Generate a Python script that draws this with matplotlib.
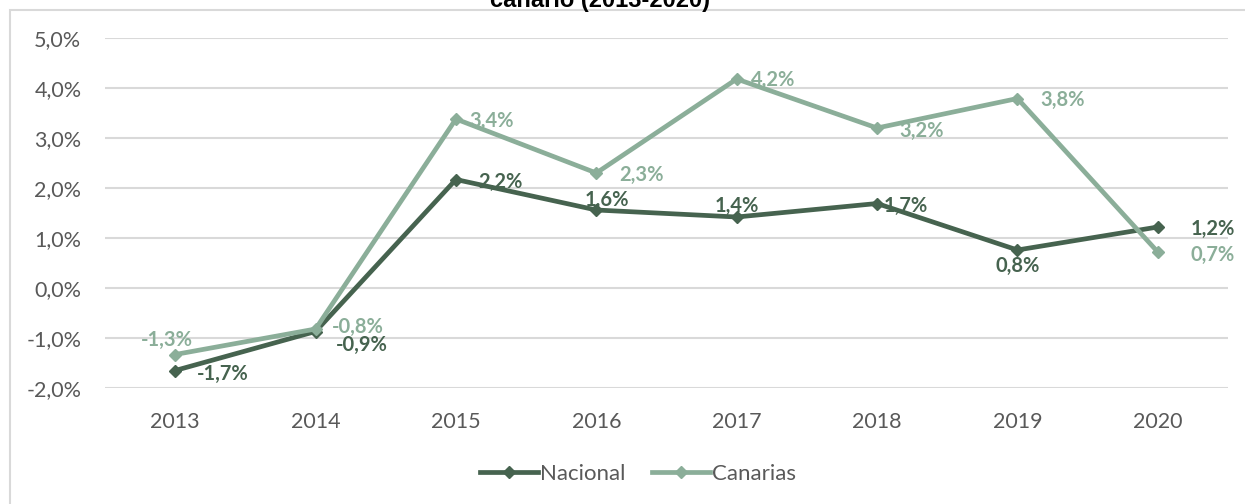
import numpy as np
import matplotlib.pyplot as plt
from matplotlib.patches import Rectangle
from matplotlib import rcParams

years = ['2013', '2014', '2015', '2016', '2017', '2018', '2019', '2020']
nacional = [-1.65, -0.87, 2.17, 1.56, 1.42, 1.69, 0.76, 1.22]
canarias = [-1.33, -0.82, 3.38, 2.30, 4.18, 3.20, 3.79, 0.72]
nac_labels = ['-1,7%', '-0,9%', '2,2%', '1,6%', '1,4%', '1,7%', '0,8%', '1,2%']
can_labels = ['-1,3%', '-0,8%', '3,4%', '2,3%', '4,2%', '3,2%', '3,8%', '0,7%']
yticks = [-2, -1, 0, 1, 2, 3, 4, 5]

# label offsets in pixels (dx, dy) from the point
nac_off = [(48, -3), (46, -13), (44, -2), (11, 10), (0, 11), (29, -2), (0, -16), (55, -2)]
can_off = [(-8, 15), (42, 2), (36, -2), (45, -2), (36, -1), (45, -3), (45, -1), (55, -3)]

c_nac = '#46634F'
c_can = '#8BAE99'
grey = '#595959'

rcParams['font.family'] = ['Lato', 'DejaVu Sans']

fig = plt.figure(figsize=(12.45, 5.04), dpi=100)
ax = fig.add_axes([105/1245, 116/504, 1123/1245, 350/504])

x = np.arange(len(years))
ax.plot(x, nacional, color=c_nac, lw=3.4, marker='D', ms=6.5, label='Nacional', zorder=3)
ax.plot(x, canarias, color=c_can, lw=3.4, marker='D', ms=6.5, label='Canarias', zorder=3)

for i in range(len(years)):
    ax.annotate(nac_labels[i], (x[i], nacional[i]), xytext=nac_off[i], textcoords='offset pixels',
                ha='center', va='center', fontsize=14.5, fontweight='bold', color=c_nac, zorder=4)
    ax.annotate(can_labels[i], (x[i], canarias[i]), xytext=can_off[i], textcoords='offset pixels',
                ha='center', va='center', fontsize=14.5, fontweight='bold', color=c_can, zorder=4)

ax.set_xlim(-0.5, len(years) - 0.5)
ax.set_ylim(-2, 5)
ax.set_xticks(x)
ax.set_xticklabels(years)
ax.set_yticks(yticks)
ax.set_yticklabels([('%.1f%%' % v).replace('.', ',') for v in yticks])
ax.tick_params(axis='both', length=0, labelsize=15.5, colors=grey)
ax.tick_params(axis='x', pad=17)
ax.tick_params(axis='y', pad=17)
ax.grid(axis='y', color='#D9D9D9', lw=1.5)
ax.set_axisbelow(True)
for s in ax.spines.values():
    s.set_visible(False)

leg = ax.legend(loc='center', bbox_to_anchor=(638/1245, 30/504), bbox_transform=fig.transFigure,
                ncol=2, frameon=False, fontsize=16, handlelength=2.6, handletextpad=0.1,
                columnspacing=1.2, labelcolor=grey)

# outer chart frame (cropped)
fig.patches.append(Rectangle((10/1245, -0.1), 1.2, 494/504 + 0.1, transform=fig.transFigure,
                             fill=False, edgecolor='#D9D9D9', lw=1.5))

fig.text(600/1245, 497/504, 'canario (2013-2020)', ha='center', va='baseline',
         fontsize=17, fontweight='bold', family='Liberation Sans', color='black')

fig.savefig('out.png', dpi=100)
